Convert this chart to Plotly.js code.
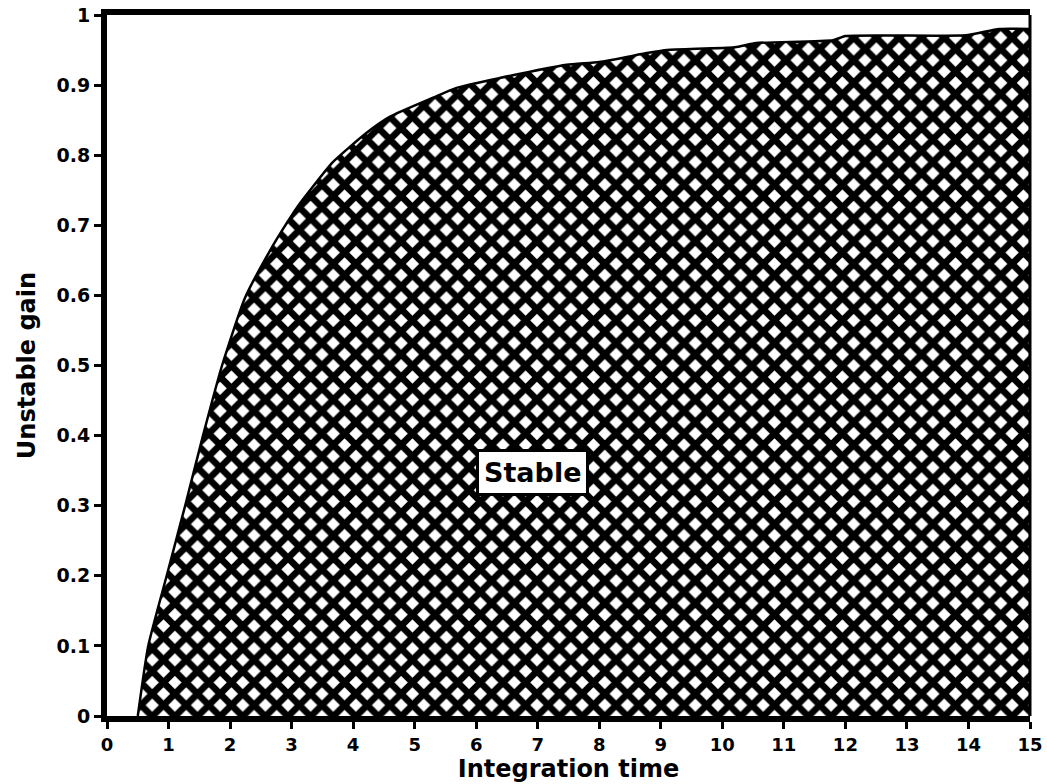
<!DOCTYPE html>
<html>
<head>
<meta charset="utf-8">
<script src="https://cdn.plot.ly/plotly-3.0.1.min.js"></script>
<style>
  html, body { margin: 0; padding: 0; background: #fff; }
  #chart { width: 1047px; height: 784px; }
</style>
</head>
<body>
<div id="chart"></div>
<script>
// Stability boundary: largest stable gain for each integration time
const integrationTime = [0.5, 0.67, 0.97, 1.27, 1.56, 1.87, 2.24, 2.65, 2.92, 3.1, 3.67, 4.22, 4.6, 5.3, 5.68, 6.38, 7.47, 8.0, 8.8, 9.1, 10.2, 10.55, 11.8, 12.0, 13.95, 14.5, 15];
const unstableGain    = [0, 0.1, 0.2, 0.3, 0.4, 0.5, 0.596, 0.664, 0.703, 0.727, 0.79, 0.832, 0.855, 0.882, 0.896, 0.91, 0.929, 0.933, 0.946, 0.95, 0.954, 0.96, 0.964, 0.97, 0.971, 0.98, 0.98];

const xTicks = [0, 1, 2, 3, 4, 5, 6, 7, 8, 9, 10, 11, 12, 13, 14, 15];
const yTicks = [0, 0.1, 0.2, 0.3, 0.4, 0.5, 0.6, 0.7, 0.8, 0.9, 1];
const yTickText = ['0', '0.1', '0.2', '0.3', '0.4', '0.5', '0.6', '0.7', '0.8', '0.9', '1'];

const regionLabel = { text: 'Stable', x: 6.92, y: 0.348 };

const FONT = 'DejaVu Sans, Liberation Sans, sans-serif';

const stableRegion = {
  type: 'scatter',
  mode: 'lines',
  x: integrationTime,
  y: unstableGain,
  fill: 'tozeroy',
  line: { color: '#000', width: 2.5, shape: 'spline', smoothing: 0.5 },
  fillpattern: { shape: 'x', size: 16, solidity: 0.66, fgcolor: '#000', bgcolor: '#fff' },
  hoverinfo: 'skip',
  showlegend: false
};

const layout = {
  width: 1047,
  height: 784,
  margin: { l: 107, r: 17, t: 15, b: 68 },
  paper_bgcolor: '#fff',
  plot_bgcolor: '#fff',
  font: { family: FONT, color: '#000', size: 18, weight: 700 },
  xaxis: {
    range: [0, 15],
    tickvals: xTicks,
    ticktext: xTicks.map(String),
    ticks: 'outside',
    ticklen: 7,
    tickwidth: 3,
    tickcolor: '#000',
    showline: true,
    linewidth: 6,
    linecolor: '#000',
    mirror: true,
    showgrid: false,
    zeroline: false,
    tickfont: { family: FONT, size: 18, weight: 700 },
    title: { text: 'Integration time', font: { family: FONT, size: 24, weight: 700 }, standoff: 4 }
  },
  yaxis: {
    range: [0, 1],
    tickvals: yTicks,
    ticktext: yTickText,
    ticks: 'outside',
    ticklen: 7,
    tickwidth: 3,
    tickcolor: '#000',
    showline: true,
    linewidth: 6,
    linecolor: '#000',
    showgrid: false,
    zeroline: false,
    tickfont: { family: FONT, size: 19, weight: 700 },
    title: { text: 'Unstable gain', font: { family: FONT, size: 24, weight: 700 }, standoff: 16 }
  },
  shapes: [
    { type: 'line', xref: 'paper', yref: 'paper', x0: 1, x1: 1, y0: 0, y1: 1,
      line: { color: '#000', width: 3 } }
  ],
  annotations: [
    {
      x: regionLabel.x, y: regionLabel.y, xref: 'x', yref: 'y',
      text: regionLabel.text,
      showarrow: false,
      font: { family: FONT, size: 27, weight: 700, color: '#000' },
      bgcolor: '#fff',
      bordercolor: '#000',
      borderwidth: 3,
      borderpad: 5
    }
  ]
};

Plotly.newPlot('chart', [stableRegion], layout, { displayModeBar: false, staticPlot: true });
</script>
</body>
</html>
